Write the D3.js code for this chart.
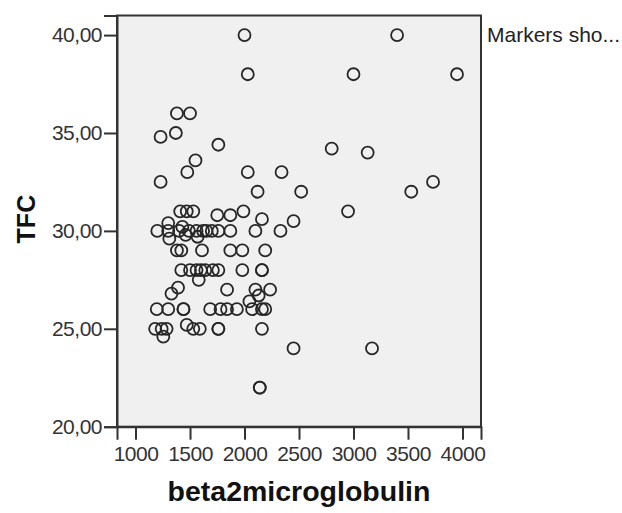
<html lang="en">
<head>
<meta charset="UTF-8">
<script src="https://d3js.org/d3.v7.min.js"></script>
<style>
  body { margin: 0; background: #fff; }
  text { font-family: "Liberation Sans", Arial, sans-serif; }
</style>
</head>
<body>
<div id="here"></div>
<script>
// beta2microglobulin (x) and TFC (y)
const beta2 = [
  2000, 3400, 2030, 3000, 3950, 1380, 1500, 1230, 1370, 1760,
  2800, 3130, 1550, 1475, 2030, 2340, 1230, 3730, 2120, 2520,
  3530, 2950, 1410, 1470, 1530, 1990, 1750, 1870, 2160, 2450,
  1200, 1300, 1300, 1400, 1430, 1460, 1490, 1560, 1620, 1650,
  1700, 1760, 1870, 2100, 2330, 1310, 1570, 1380, 1420, 1610,
  1870, 1980, 2190, 1420, 1500, 1560, 1600, 1640, 1710, 1760,
  1980, 2160, 2160, 1580, 1390, 1840, 2100, 2235, 1330, 2130,
  2045, 1195, 1300, 1440, 1440, 1685, 1780, 1840, 1930, 2070,
  2160, 2190, 1180, 1240, 1285, 1470, 1530, 1590, 1760, 1760,
  2160, 1255, 2450, 3170, 2140, 2140
];
const tfc = [
  40, 40, 38, 38, 38, 36, 36, 34.8, 35, 34.4,
  34.2, 34, 33.6, 33, 33, 33, 32.5, 32.5, 32, 32,
  32, 31, 31, 31, 31, 31, 30.8, 30.8, 30.6, 30.5,
  30, 30, 30.4, 30, 30.2, 29.8, 30, 30, 30, 30,
  30, 30, 30, 30, 30, 29.6, 29.7, 29, 29, 29,
  29, 29, 29, 28, 28, 28, 28, 28, 28, 28,
  28, 28, 28, 27.5, 27.1, 27, 27, 27, 26.8, 26.7,
  26.4, 26, 26, 26, 26, 26, 26, 26, 26, 26,
  26, 26, 25, 25, 25, 25.2, 25, 25, 25, 25,
  25, 24.6, 24, 24, 22, 22
];
const xTicks = [1000, 1500, 2000, 2500, 3000, 3500, 4000];
const yTicks = [20, 25, 30, 35, 40];

const W = 622, H = 513;
const pLeft = 117, pRight = 481, pTop = 15.5, pBottom = 426.7;

const svg = d3.select("#here").append("svg")
  .attr("width", W).attr("height", H);

const x = d3.scaleLinear().domain([830, 4170]).range([pLeft, pRight]);
const y = d3.scaleLinear().domain([20, 41]).range([pBottom, pTop]);

// plot frame
svg.append("rect")
  .attr("x", pLeft).attr("y", pTop)
  .attr("width", pRight - pLeft).attr("height", pBottom - pTop)
  .attr("fill", "#f0f0f0")
  .attr("stroke", "#333").attr("stroke-width", 2);

const fmt = d => d.toFixed(2).replace(".", ",");

const yAxis = svg.append("g")
  .attr("transform", `translate(${pLeft},0)`)
  .call(d3.axisLeft(y).tickValues(yTicks).tickSize(13).tickPadding(2).tickFormat(fmt));

const xAxis = svg.append("g")
  .attr("transform", `translate(0,${pBottom})`)
  .call(d3.axisBottom(x).tickValues(xTicks).tickSize(13).tickPadding(6).tickFormat(d3.format("d")));

[yAxis, xAxis].forEach(g => {
  g.select(".domain").attr("stroke", "#333").attr("stroke-width", 2);
  g.selectAll(".tick line").attr("stroke", "#333").attr("stroke-width", 2);
  g.selectAll(".tick text")
    .attr("fill", "#333")
    .style("font-size", "21px")
    .style("letter-spacing", "-0.5px")
    .style("font-family", "'Liberation Sans', Arial, sans-serif");
});

// points
svg.append("g").selectAll("circle")
  .data(beta2.map((b, i) => [b, tfc[i]]))
  .join("circle")
  .attr("cx", d => x(d[0]))
  .attr("cy", d => y(d[1]))
  .attr("r", 6)
  .attr("fill", "none")
  .attr("stroke", "#262626")
  .attr("stroke-width", 1.8);

// axis titles
svg.append("text")
  .attr("transform", `translate(35,${(pTop + pBottom) / 2 - 2}) rotate(-90)`)
  .attr("text-anchor", "middle")
  .attr("fill", "#111")
  .style("font-size", "25px").style("font-weight", "bold")
  .text("TFC");

svg.append("text")
  .attr("x", (pLeft + pRight) / 2).attr("y", 501)
  .attr("text-anchor", "middle")
  .attr("fill", "#111")
  .style("font-size", "28.5px").style("font-weight", "bold")
  .text("beta2microglobulin");

svg.append("text")
  .attr("x", 487).attr("y", 42)
  .attr("fill", "#222")
  .style("font-size", "21px")
  .text("Markers sho...");
</script>
</body>
</html>
